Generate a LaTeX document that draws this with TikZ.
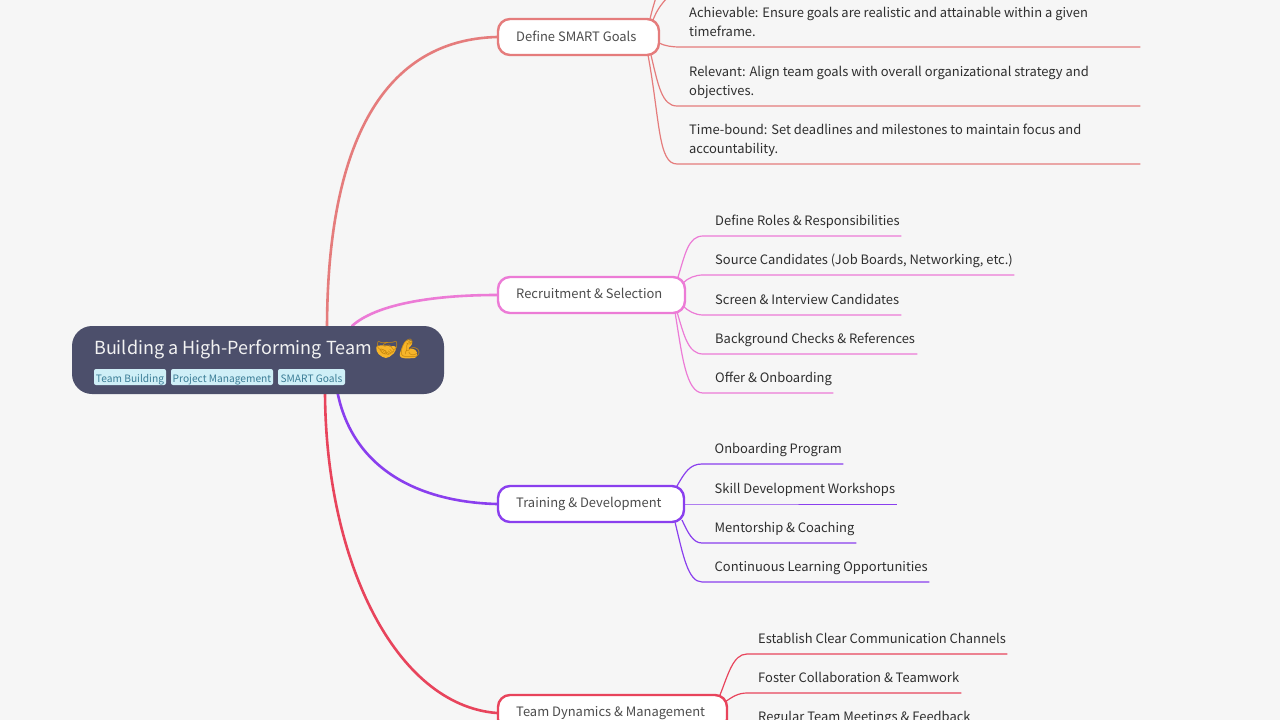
\documentclass[tikz,border=0pt]{standalone}
\usepackage{fontspec}
\setmainfont{Noto Sans CJK SC}
\newfontfamily\emojifont{Noto Emoji}
\definecolor{bgc}{HTML}{F6F6F6}
\definecolor{rootc}{HTML}{4C4F6B}
\definecolor{tagf}{HTML}{CFEFF7}
\definecolor{tagt}{HTML}{3B7D96}
\definecolor{cred}{HTML}{E57C7C}
\definecolor{cpink}{HTML}{EC7BD6}
\definecolor{cpur}{HTML}{8A3FEE}
\definecolor{ccrim}{HTML}{E8445C}
\definecolor{emj}{HTML}{F7B52A}
\definecolor{emjd}{HTML}{C98A10}
\tikzset{x=1pt,y=-1pt,
 rootbox/.style={draw=none,fill=rootc,rounded corners=20pt,minimum width=372pt,minimum height=68pt,inner sep=0pt},
 tagbox/.style={fill=tagf,rounded corners=2pt,inner sep=0pt,minimum height=16pt},
 tagtext/.style={anchor=base,inner sep=0pt,text=tagt,font=\fontsize{10.2pt}{12pt}\selectfont},
 branch/.style={draw=#1,fill=white,line width=2.4pt,rounded corners=12pt,minimum height=36pt,inner sep=0pt},
 branchtext/.style={anchor=base west,inner sep=0pt,text=black!70,font=\fontsize{12.95pt}{16pt}\selectfont},
 leaf/.style={anchor=south west,inner sep=0pt,align=flush left,text=black!82,font=\fontsize{12.95pt}{18.5pt}\selectfont},
 main/.style={line width=2.6pt,line cap=round},
 sub/.style={line width=1.2pt},
}
\newcommand{\lfa}[2]{\hspace*{#1}\mbox{#2}\rule[-10pt]{0pt}{10pt}}
\newcommand{\lfb}[3]{\hspace*{#1}\mbox{#2}\\\hspace*{#1}\mbox{#3}\rule[-10.6pt]{0pt}{10.6pt}}
\begin{document}
\begin{tikzpicture}
\useasboundingbox (0,0) rectangle (1280,720);
\begin{scope}
\clip (0,0) rectangle (1280,720);
\fill[bgc] (0,0) rectangle (1280,720);
% main connector ends
\coordinate (ra) at (327,330);
\coordinate (rb) at (352,326);
\coordinate (rc) at (337,390);
\coordinate (rd) at (325,390);
% branches
\node[branch=cred,minimum width=161pt] (def) at (578.5,37) {};
\node[branch=cpink,minimum width=187pt] (rec) at (591.5,295) {};
\node[branch=cpur,minimum width=186pt] (tra) at (591,504) {};
\node[branch=ccrim,minimum width=229pt] (tea) at (612.5,713) {};
% main connectors
\draw[main,cred] (ra) .. controls (327,140) and (385,40) .. (def.west);
\draw[main,cpink] (rb) .. controls (375,305) and (430,295) .. (rec.west);
\draw[main,cpur] (rc) .. controls (352,470) and (420,502) .. (tra.west);
\draw[main,ccrim] (rd) .. controls (325,560) and (395,705) .. (tea.west);
% root
\node[rootbox] (root) at (258,360) {};
\fill[emj,rounded corners=2pt] (376,346) -- (384,345) -- (388,346.5) -- (396,346) -- (395.5,352) -- (388,358) -- (384,358) -- (377,353) -- cycle;
\fill[emj,rounded corners=2.5pt] (406,340) -- (412.5,340.5) -- (411.5,346.5) -- (408,347) -- (408.5,350) -- (412.5,348) -- (417.5,352) -- (416.5,358) -- (404,358.5) -- (399,356.5) -- (401,350) -- (403.5,344) -- cycle;
\node[anchor=base west,inner sep=0pt,text=white!95!black,font=\fontsize{18pt}{22pt}\selectfont] (rt) at (94,354) {Building a High-Performing Team {\emojifont\color{emjd}🤝💪}};
\node[tagbox,minimum width=72pt] (t1) at (130,377) {};
\node[tagbox,minimum width=102pt] (t2) at (222,377) {};
\node[tagbox,minimum width=67pt] (t3) at (311.5,377) {};
\node[tagtext] (t1t) at (130,382) {Team Building};
\node[tagtext] (t2t) at (222,382) {Project Management};
\node[tagtext] (t3t) at (311.5,382) {SMART Goals};
% branch texts
\node[branchtext] (dt) at (516,41) {Define SMART Goals};
\node[branchtext] (rt2) at (516,298) {Recruitment \& Selection};
\node[branchtext] (tt) at (516,507) {Training \& Development};
\node[branchtext] (tm) at (516,716) {Team Dynamics \& Management};
% Define leaves
\coordinate (d1) at (677,-70);
\coordinate (d2) at (677,-12);
\node[leaf,text width=460pt] (d3) at (680,47) {\lfb{9pt}{Achievable: Ensure goals are realistic and attainable within a given}{timeframe.}};
\node[leaf,text width=463pt] (d4) at (677,106) {\lfb{12pt}{Relevant: Align team goals with overall organizational strategy and}{objectives.}};
\node[leaf,text width=463pt] (d5) at (677,164) {\lfb{12pt}{Time-bound: Set deadlines and milestones to maintain focus and}{accountability.}};
\draw[sub,cred] (650,19) .. controls (652,10) and (654,3) .. (d1);
\draw[sub,cred] (653,20) .. controls (657,10) and (661,3) .. (d2);
\draw[sub,cred] (659,43) .. controls (665,46) and (672,47) .. (d3.south west) -- (d3.south east);
\draw[sub,cred] (651,55) .. controls (658,85) and (662,106) .. (d4.south west) -- (d4.south east);
\draw[sub,cred] (648,55) .. controls (660,120) and (658,164) .. (d5.south west) -- (d5.south east);
% Recruitment leaves
\node[leaf,text width=198pt] (r1) at (703,236) {\lfa{12pt}{Define Roles \& Responsibilities}};
\node[leaf,text width=311pt] (r2) at (703,275) {\lfa{12pt}{Source Candidates (Job Boards, Networking, etc.)}};
\node[leaf,text width=198pt] (r3) at (703,315) {\lfa{12pt}{Screen \& Interview Candidates}};
\node[leaf,text width=214pt] (r4) at (703,354) {\lfa{12pt}{Background Checks \& References}};
\node[leaf,text width=130pt] (r5) at (703,393) {\lfa{12pt}{Offer \& Onboarding}};
\draw[sub,cpink] (678,277) .. controls (685,255) and (688,236) .. (r1.south west) -- (r1.south east);
\draw[sub,cpink] (683,283) .. controls (688,278) and (695,275) .. (r2.south west) -- (r2.south east);
\draw[sub,cpink] (683,306) .. controls (688,311) and (695,315) .. (r3.south west) -- (r3.south east);
\draw[sub,cpink] (677,312) .. controls (684,335) and (688,354) .. (r4.south west) -- (r4.south east);
\draw[sub,cpink] (675,312) .. controls (682,355) and (686,393) .. (r5.south west) -- (r5.south east);
% Training leaves
\node[leaf,text width=141pt] (p1) at (702,464) {\lfa{12.5pt}{Onboarding Program}};
\node[leaf,text width=195pt] (p2) at (702,504) {\lfa{12.5pt}{Skill Development Workshops}};
\node[leaf,text width=154pt] (p3) at (702,543) {\lfa{12.5pt}{Mentorship \& Coaching}};
\node[leaf,text width=227pt] (p4) at (702,582) {\lfa{12.5pt}{Continuous Learning Opportunities}};
\draw[sub,cpur] (677,486) .. controls (685,472) and (690,464) .. (p1.south west) -- (p1.south east);
\draw[sub,cpur,line width=0.9pt] (684,504) -- (p2.south west) -- (p2.south east);
\draw[sub,cpur] (682,520) .. controls (688,533) and (693,543) .. (p3.south west) -- (p3.south east);
\draw[sub,cpur] (675,522) .. controls (683,555) and (688,582) .. (p4.south west) -- (p4.south east);
% Team leaves
\node[leaf,text width=260pt] (m1) at (747,654) {\lfa{11pt}{Establish Clear Communication Channels}};
\node[leaf,text width=214pt] (m2) at (747,693) {\lfa{11pt}{Foster Collaboration \& Teamwork}};
\node[leaf,text width=240pt] (m3) at (747,732) {\lfa{11pt}{Regular Team Meetings \& Feedback}};
\draw[sub,ccrim] (720,695) .. controls (728,675) and (733,654) .. (m1.south west) -- (m1.south east);
\draw[sub,ccrim] (725,702) .. controls (732,697) and (738,693) .. (m2.south west) -- (m2.south east);
\draw[sub,ccrim] (727,720) .. controls (732,727) and (738,732) .. (m3.south west) -- (m3.south east);
\end{scope}
\end{tikzpicture}
\end{document}
